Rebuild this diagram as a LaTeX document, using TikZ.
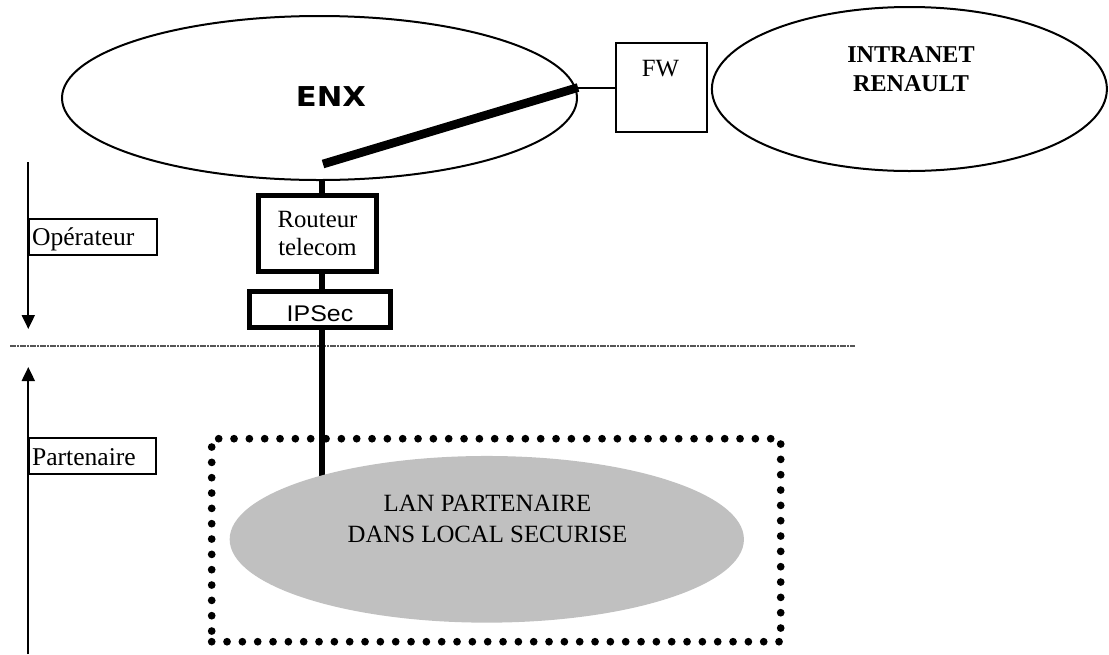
\documentclass[tikz,border=0pt]{standalone}
\usepackage{fontspec}
\setmainfont{Liberation Serif}
\setsansfont{Liberation Sans}
\newfontfamily\enxfont{DejaVu Sans}
\usetikzlibrary{shapes.geometric,arrows.meta,backgrounds}
\definecolor{langray}{HTML}{C0C0C0}
\definecolor{sepgray}{HTML}{555555}
\begin{document}
\begin{tikzpicture}[x=0.75pt,y=-0.75pt,
  thinbox/.style={draw, line width=1.5pt, inner sep=0pt},
  thickbox/.style={draw, line width=3.75pt, inner sep=0pt},
  cloud/.style={ellipse, draw, line width=1.5pt, inner sep=0pt},
  serif/.style={font=\fontsize{18.6pt}{21.2pt}\selectfont},
  sidetext/.style={font=\fontsize{19.2pt}{22pt}\selectfont},
  link/.style={line width=4.5pt},
  thinlink/.style={line width=1.5pt},
  tunnel/.style={line width=6.5pt, line cap=butt},
  side/.style={line width=1.5pt, -{Triangle[width=9.75pt,length=10.5pt]}},
  separator/.style={draw=sepgray, line width=1pt, dash pattern=on 4.5pt off 1pt on 1pt off 1pt},
  securezone/.style={draw, line width=5.8pt, line cap=round, dash pattern=on 0pt off 11.5pt, inner sep=0pt}
]
\useasboundingbox (0,0) rectangle (1109,654);

% clouds
\node[cloud, minimum width=386.25pt, minimum height=123pt] (enx) at (319.5,98) {};
\node[anchor=base, font=\enxfont\bfseries\fontsize{20.5pt}{24pt}\selectfont] (enxlabel) at (331,106.7) {\scalebox{1.12}[1]{ENX}};

\node[cloud, minimum width=296.25pt, minimum height=123pt] (intranet) at (909.4,89) {};
\node[align=center, font=\bfseries\fontsize{18.1pt}{21.75pt}\selectfont] (intranetlabel) at (911,69.2) {INTRANET\\RENAULT};

% firewall
\node[thinbox, minimum width=68.5pt, minimum height=67.2pt] (fw) at (661.7,87.5) {};
\node[anchor=base, serif] (fwlabel) at (660.5,76) {FW};

% router and IPSec
\node[thickbox, serif, align=center, minimum width=88.95pt, minimum height=57pt] (router) at (317.5,233.8) {Routeur\\telecom};
\node[thickbox, font=\sffamily\fontsize{17pt}{19pt}\selectfont, text height=18.1pt, text depth=0pt, minimum width=106.2pt, minimum height=26.8pt] (ipsec) at (320,309.65) {\scalebox{1.1}[1]{IPSec}};

% side labels
\node[thinbox, sidetext, text width=91.7pt, inner xsep=2.25pt, align=left, text height=16.95pt, text depth=3.75pt, minimum height=27.2pt] (operateur) at (93.2,236.9) {Opérateur};
\node[thinbox, sidetext, text width=91pt, inner xsep=2.25pt, align=left, text height=16.95pt, text depth=3.75pt, minimum height=26.8pt] (partenaire) at (92.7,456.2) {Partenaire};

% secure zone and LAN
\node[securezone, minimum width=426.75pt, minimum height=152.25pt] (secure) at (496.2,540.2) {};
\node[ellipse, fill=langray, inner sep=0pt, minimum width=385.7pt, minimum height=125pt] (lan) at (486.8,539.3) {};
\node[serif, align=center, font=\fontsize{18.6pt}{23.25pt}\selectfont] (lanlabel) at (487.5,519) {LAN PARTENAIRE\\DANS LOCAL SECURISE};

% coordinates
\coordinate (spine) at (322,0);
\coordinate (tunnelstart) at (323,164);
\coordinate (opTop) at (28.3,162.3);
\coordinate (opTip) at (28.3,329);
\coordinate (paBottom) at (28.3,654);
\coordinate (paTip) at (28.3,367);
\coordinate (sepL) at (10,346);
\coordinate (sepR) at (855,346);

% connectors
\draw[thinlink] (fw.west) -- (fw.west -| enx.east);
\draw[tunnel] (tunnelstart) -- (fw.west -| enx.east);
\draw[link] (enx.south -| spine) -- (router.north -| spine);
\draw[link] (router.south -| spine) -- (ipsec.north -| spine);
\begin{scope}[on background layer]
  \draw[separator] (sepL) -- (sepR);
  \draw[link] (ipsec.south -| spine) -- (lan.center -| spine);
\end{scope}

% side arrows
\draw[side] (opTop) -- (opTip);
\draw[side] (paBottom) -- (paTip);
\end{tikzpicture}
\end{document}
